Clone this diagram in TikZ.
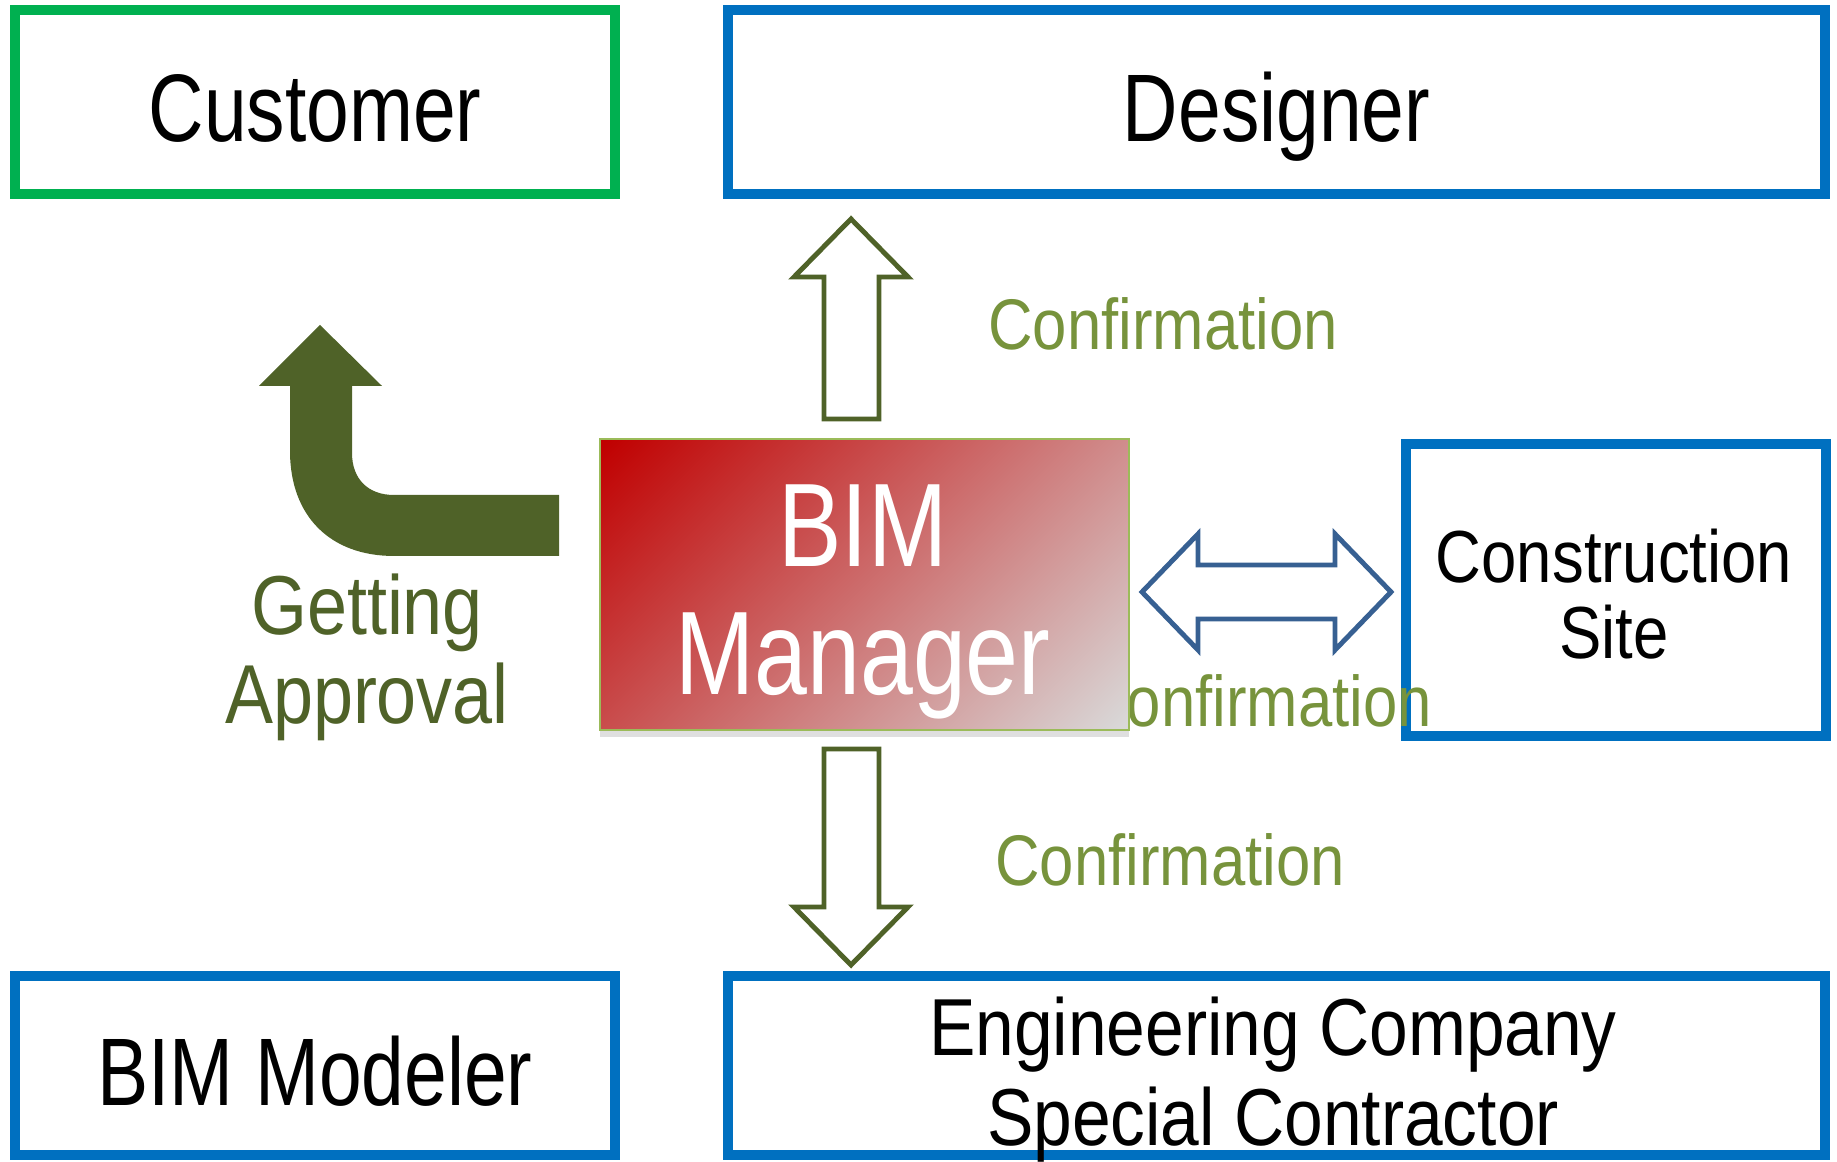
\documentclass[tikz,border=0pt]{standalone}
\usepackage{fontspec}
\setmainfont[FakeStretch=0.8]{Liberation Sans}
\newfontfamily\widefont[FakeStretch=0.86]{Liberation Sans}
\usepackage{tikz}
\usetikzlibrary{shadows}
\definecolor{boxgreen}{RGB}{0,176,80}
\definecolor{boxblue}{RGB}{0,112,192}
\definecolor{olivedark}{RGB}{79,98,40}
\definecolor{olivetext}{RGB}{119,147,60}
\definecolor{mgrred}{RGB}{192,0,0}
\definecolor{mgrgray}{RGB}{217,217,217}
\definecolor{mgrline}{RGB}{155,187,89}
\definecolor{arrowblue}{RGB}{55,96,146}
\pgfdeclareverticalshading{mgrshade}{100bp}{color(0bp)=(mgrgray); color(15bp)=(mgrgray); color(85bp)=(mgrred); color(100bp)=(mgrred)}

\begin{document}
\begin{tikzpicture}[
    party/.style={draw=boxblue, line width=2.6pt, align=center, inner sep=0pt},
    bigfont/.style={font=\fontsize{27.3}{30}\selectfont, text height=0.8cm, text depth=0pt},
    confirm/.style={text=olivetext, font=\widefont\fontsize{20.4}{22}\selectfont},
    hollow/.style={draw=olivedark, line width=1.4pt, fill=white}
]
                \useasboundingbox (0,0) rectangle (18.37,11.61);

                % Top row
                \node[party, bigfont, draw=boxgreen, minimum width=6cm, minimum height=1.84cm] (cust) at (3.15,10.59) {Customer};
                \node[party, bigfont, minimum width=10.97cm, minimum height=1.84cm] (des) at (12.765,10.59) {Designer};

                % Right side
                \node[party, minimum width=4.2cm, minimum height=2.92cm] (site) at (16.16,5.71) {};
                \node[align=center, font=\widefont\fontsize{21}{21.6}\selectfont] (sitetext) at (16.14,5.67) {Construction\\Site};

                % Bottom row
                \node[party, bigfont, minimum width=6cm, minimum height=1.79cm] (mod) at (3.15,0.955) {BIM Modeler};
                \node[party, minimum width=10.97cm, minimum height=1.79cm] (eng) at (12.765,0.955) {};
                \node[align=center, font=\widefont\fontsize{23}{25.6}\selectfont] (engtext) at (12.73,0.81) {Engineering Company\\Special Contractor};

                % Labels
                \node[confirm] (conftop) at (11.63,8.37) {Confirmation};
                \node[confirm] (confmid) at (12.57,4.60) {Confirmation};
                \node[confirm] (confbot) at (11.70,3.01) {Confirmation};

                % BIM Manager
                \node[draw=mgrline, line width=0.8pt, shade, shading=mgrshade, shading angle=45,
                      drop shadow={shadow xshift=0pt, shadow yshift=-2pt, opacity=0.25},
                      minimum width=5.29cm, minimum height=2.91cm, inner sep=0pt] (mgr) at (8.645,5.765) {};
                \node[align=center, text=white, font=\fontsize{33.8}{36.4}\selectfont] (mgrtext) at (8.63,5.59) {BIM\\Manager};

                % Getting approval
                \fill[olivedark] (5.59,6.66) -- (3.94,6.66) .. controls (3.68,6.66) and (3.52,6.82) .. (3.52,7.08)
                    -- (3.52,7.75) -- (3.82,7.75) -- (3.20,8.36) -- (2.59,7.75) -- (2.90,7.75) -- (2.90,7.10)
                    .. controls (2.90,6.45) and (3.30,6.05) .. (3.94,6.05) -- (5.59,6.05) -- cycle;
                \node[align=center, text=olivedark, font=\widefont\fontsize{23.8}{25.3}\selectfont] (appr) at (3.67,5.04) {Getting\\Approval};

                % Confirmation arrows
                \draw[hollow] (8.24,7.42) -- (8.24,8.84) -- (7.94,8.84) -- (8.51,9.42) -- (9.08,8.84) -- (8.79,8.84) -- (8.79,7.42) -- cycle;
                \draw[hollow] (8.24,4.12) -- (8.24,2.54) -- (7.94,2.54) -- (8.51,1.96) -- (9.08,2.54) -- (8.79,2.54) -- (8.79,4.12) -- cycle;
                \draw[line width=1.4pt, draw=arrowblue, fill=white] (11.42,5.69) -- (11.98,6.27) -- (11.98,5.96) -- (13.35,5.96)
                    -- (13.35,6.27) -- (13.91,5.69) -- (13.35,5.11) -- (13.35,5.42) -- (11.98,5.42) -- (11.98,5.11) -- cycle;
\end{tikzpicture}
\end{document}
